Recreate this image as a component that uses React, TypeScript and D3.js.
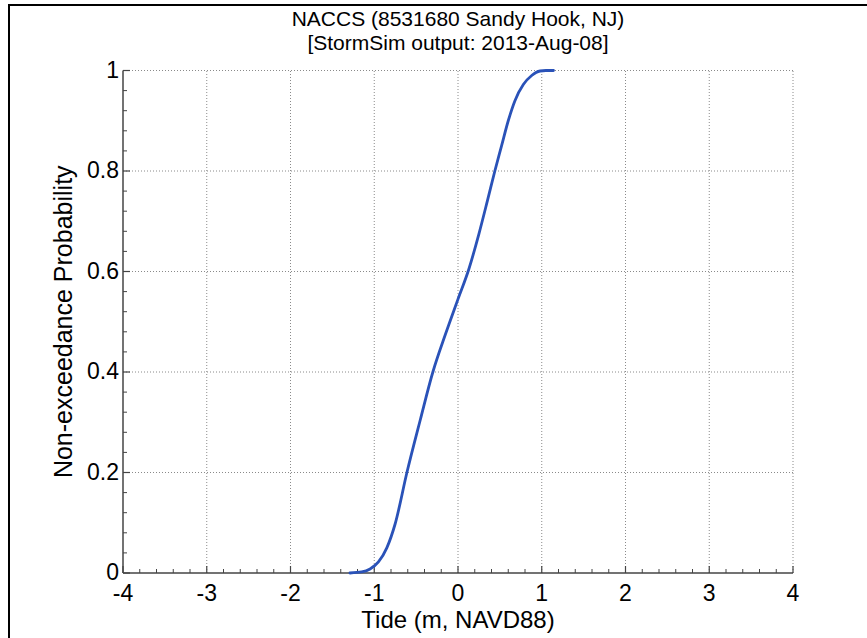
import React from "react";
import * as d3 from "d3";

const titleLines = ["NACCS (8531680 Sandy Hook, NJ)", "[StormSim output: 2013-Aug-08]"];
const xLabel = "Tide (m, NAVD88)";
const yLabel = "Non-exceedance Probability";
const xTicks = [-4, -3, -2, -1, 0, 1, 2, 3, 4];
const yTicks = [0, 0.2, 0.4, 0.6, 0.8, 1];
const tideValues = [-1.29, -1.15, -1.05, -0.95, -0.85, -0.75, -0.61, -0.45, -0.3, -0.15, 0.0, 0.13, 0.25, 0.35, 0.44, 0.52, 0.6, 0.68, 0.78, 0.88, 0.98, 1.05, 1.14];
const probValues = [0, 0.002, 0.008, 0.022, 0.05, 0.098, 0.2, 0.305, 0.4, 0.475, 0.545, 0.605, 0.675, 0.74, 0.8, 0.85, 0.9, 0.94, 0.972, 0.99, 0.999, 1.0, 1.0];

const W = 867, H = 638;
const left = 123, right = 793, top = 70.5, bottom = 573;
const font = "'Liberation Sans', Arial, sans-serif";

export default function App() {
  const x = d3.scaleLinear().domain([-4, 4]).range([left, right]);
  const y = d3.scaleLinear().domain([0, 1]).range([bottom, top]);
  const pts = tideValues.map((t, i) => [t, probValues[i]] as [number, number]);
  const line = d3.line<[number, number]>().x(d => x(d[0])).y(d => y(d[1])).curve(d3.curveMonotoneX);
  const xMinor = d3.range(-4, 4.001, 0.2).filter(v => Math.abs(v - Math.round(v)) > 1e-6);
  const yMinor = d3.range(0, 1.0001, 0.04).filter(v => Math.abs(v * 5 - Math.round(v * 5)) > 1e-6);
  const cx = (left + right) / 2;
  return (
    <svg width={W} height={H} style={{ position: "absolute", left: 0, top: 0, background: "#fff" }} fontFamily={font}>
      <rect x={0} y={0} width={W} height={H} fill="#fff" />
      <rect x={9} y={5} width={W + 20} height={H + 20} fill="none" stroke="#000" strokeWidth={2} />
      {xTicks.filter(v => v !== -4).map(v => (
        <line key={"gx" + v} x1={x(v)} x2={x(v)} y1={bottom} y2={top} stroke="#8a8a8a" strokeWidth={1} strokeDasharray="1,2" />
      ))}
      {yTicks.filter(v => v !== 0).map(v => (
        <line key={"gy" + v} x1={left} x2={right} y1={y(v)} y2={y(v)} stroke="#8a8a8a" strokeWidth={1} strokeDasharray="1,2" />
      ))}
      <line x1={left} x2={right} y1={bottom} y2={bottom} stroke="#444" strokeWidth={1.5} />
      <line x1={left} x2={left} y1={bottom} y2={top} stroke="#444" strokeWidth={1.5} />
      {xTicks.map(v => (
        <line key={"tx" + v} x1={x(v)} x2={x(v)} y1={bottom} y2={bottom - 7} stroke="#444" strokeWidth={1.2} />
      ))}
      {xMinor.map(v => (
        <line key={"mx" + v} x1={x(v)} x2={x(v)} y1={bottom} y2={bottom - 4} stroke="#444" strokeWidth={1} />
      ))}
      {yTicks.map(v => (
        <line key={"ty" + v} x1={left} x2={left + 7} y1={y(v)} y2={y(v)} stroke="#444" strokeWidth={1.2} />
      ))}
      {yMinor.map(v => (
        <line key={"my" + v} x1={left} x2={left + 4} y1={y(v)} y2={y(v)} stroke="#444" strokeWidth={1} />
      ))}
      {xTicks.map(v => (
        <text key={"lx" + v} x={x(v)} y={601} textAnchor="middle" fontSize={23} fill="#000">{String(v)}</text>
      ))}
      {yTicks.map(v => (
        <text key={"ly" + v} x={119} y={y(v) + 7} textAnchor="end" fontSize={23} fill="#000">{String(v)}</text>
      ))}
      <path d={line(pts) || ""} fill="none" stroke="#2a52b8" strokeWidth={2.8} strokeLinejoin="round" strokeLinecap="round" />
      <text x={cx} y={26} textAnchor="middle" fontSize={21} fill="#000">{titleLines[0]}</text>
      <text x={cx} y={50} textAnchor="middle" fontSize={21} fill="#000">{titleLines[1]}</text>
      <text x={cx} y={628} textAnchor="middle" fontSize={24} fill="#000">{xLabel}</text>
      <text transform={`translate(72,${(top + bottom) / 2}) rotate(-90)`} textAnchor="middle" fontSize={25} fill="#000">{yLabel}</text>
    </svg>
  );
}
